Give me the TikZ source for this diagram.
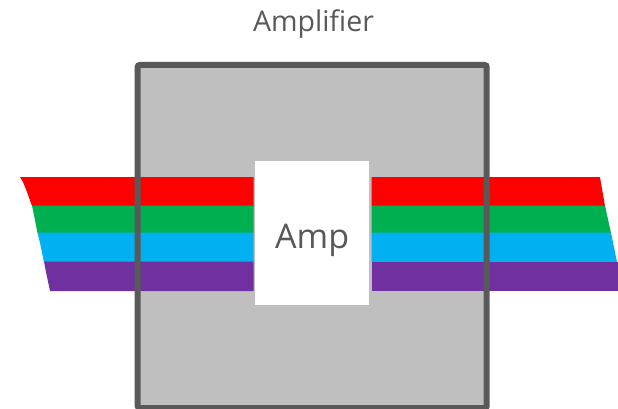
\documentclass[tikz,border=0pt]{standalone}
\usepackage{fontspec}
\setmainfont{Open Sans}
\definecolor{boxfill}{HTML}{BFBFBF}
\definecolor{boxline}{HTML}{595959}
\definecolor{txt}{HTML}{595959}
\definecolor{bred}{HTML}{FF0000}
\definecolor{bgreen}{HTML}{00B050}
\definecolor{bblue}{HTML}{00B0F0}
\definecolor{bpurple}{HTML}{7030A0}
\begin{document}
\begin{tikzpicture}[x=1pt,y=-1pt,
  frame/.style={draw=boxline, line width=6pt, rounded corners=2pt},
  lbl/.style={text=txt, inner sep=0pt, anchor=base}]
\useasboundingbox (0,0) rectangle (618,409);
% amplifier body fill
\node[fill=boxfill, draw=none, minimum width=349pt, minimum height=343pt, inner sep=0pt, outer sep=0pt] (amplifier) at (312.2,236.5) {};
% left bands
\fill[bred]    (20,177) -- (253.5,177) -- (253.5,206) -- (32,206) -- (27,192) -- (23,182) -- cycle;
\fill[bgreen]  (32,205.6) -- (253.5,205.6) -- (253.5,233) -- (37.5,233) -- (34,215) -- cycle;
\fill[bblue]   (37.5,232.6) -- (253.5,232.6) -- (253.5,262) -- (44,262) -- (40,243) -- cycle;
\fill[bpurple] (44,261.6) -- (253.5,261.6) -- (253.5,291) -- (50,291) -- (46,272) -- cycle;
% right bands
\fill[bred]    (371.7,177) -- (600,177) -- (601,183) -- (605,206) -- (371.7,206) -- cycle;
\fill[bgreen]  (371.7,205.6) -- (605,205.6) -- (611,233) -- (371.7,233) -- cycle;
\fill[bblue]   (371.7,232.6) -- (611,232.6) -- (617,262) -- (371.7,262) -- cycle;
\fill[bpurple] (371.7,261.6) -- (618,261.6) -- (618,291) -- (371.7,291) -- cycle;
% frame
\draw[frame] (amplifier.north west) rectangle (amplifier.south east);
% amp block
\node[fill=white, draw=none, minimum width=114.5pt, minimum height=144pt, inner sep=0pt] (amp) at (312.2,233) {};
\node[lbl, font=\fontsize{34}{41}\selectfont] (amptext) at (312.2,248) {Amp};
\node[lbl, font=\fontsize{28.5}{34}\selectfont] (title) at (313.5,32) {Amplifier};
\end{tikzpicture}
\end{document}
